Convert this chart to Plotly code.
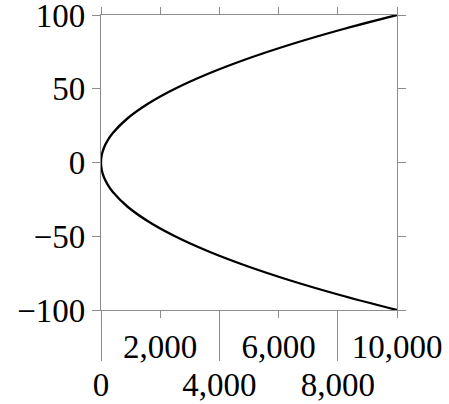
import plotly.graph_objects as go

# points (x, y)
y_vals = [-100, -90, -80, -70, -60, -50, -40, -30, -20, -15, -10, -5, 0,
          5, 10, 15, 20, 30, 40, 50, 60, 70, 80, 90, 100]
x_vals = [10000, 8100, 6400, 4900, 3600, 2500, 1600, 900, 400, 225, 100, 25, 0,
          25, 100, 225, 400, 900, 1600, 2500, 3600, 4900, 6400, 8100, 10000]

x_ticks = [0, 2000, 4000, 6000, 8000, 10000]
x_upper_labels = ["", "2,000", "", "6,000", "", "10,000"]
x_lower_ticks = [0, 4000, 8000]
x_lower_labels = ["0", "4,000", "8,000"]
y_ticks = [-100, -50, 0, 50, 100]
y_labels = ["\u2212100", "\u221250", "0", "50", "100"]

axis_col = "#8c8c8c"
font = dict(family="Liberation Serif", size=33, color="black")

fig = go.Figure()
fig.add_trace(go.Scatter(x=x_vals, y=y_vals, mode="lines",
                         line=dict(color="black", width=2.3, shape="spline"),
                         showlegend=False))
# invisible trace so the second x axis is drawn
fig.add_trace(go.Scatter(x=[0], y=[0], xaxis="x2", mode="markers",
                         marker=dict(opacity=0), showlegend=False, hoverinfo="skip"))

fig.update_layout(
    width=449, height=404,
    margin=dict(l=101, r=52, t=15, b=94),
    plot_bgcolor="white", paper_bgcolor="white",
    font=font,
    xaxis=dict(range=[0, 10000], tickvals=x_ticks, ticktext=x_upper_labels,
               ticks="outside", ticklen=7, tickwidth=1.3, tickcolor=axis_col,
               showline=True, linecolor=axis_col, linewidth=1.3, mirror="ticks",
               showgrid=False, zeroline=False, tickfont=font, automargin=False,
               ticklabeloverflow="allow"),
    xaxis2=dict(range=[0, 10000], overlaying="x", side="bottom", anchor="y",
                tickvals=x_lower_ticks, ticktext=x_lower_labels,
                ticks="outside", ticklen=50, tickwidth=1.3, tickcolor=axis_col,
                ticklabelstandoff=-5,
                showline=False, showgrid=False, zeroline=False, tickfont=font,
                automargin=False, ticklabeloverflow="allow"),
    yaxis=dict(range=[-100, 100], tickvals=y_ticks, ticktext=y_labels,
               ticks="outside", ticklen=8, tickwidth=1.3, tickcolor=axis_col,
               showline=True, linecolor=axis_col, linewidth=1.3, mirror="ticks",
               showgrid=False, zeroline=False, tickfont=font, automargin=False,
               ticklabeloverflow="allow"),
)

# drop the browser's default page margin so the figure sits at the corner
fig.write_html("out.html", config={"displayModeBar": False},
               post_script="document.body.style.margin='0';")
